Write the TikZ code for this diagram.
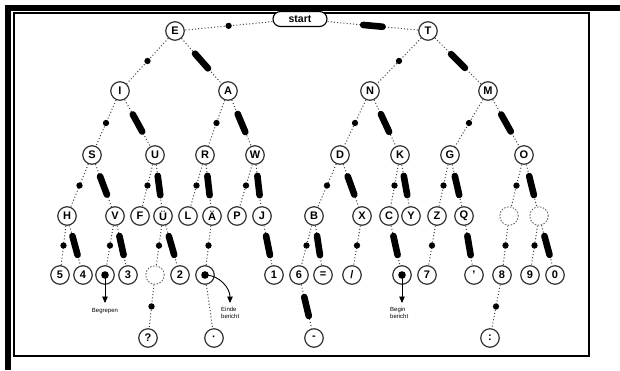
\documentclass[tikz,border=0pt]{standalone}
\usepackage{fontspec}
\setmainfont{Liberation Sans}
\usetikzlibrary{arrows.meta}
\begin{document}
\begin{tikzpicture}[x=1pt,y=-1pt,
  lt/.style={circle, draw=black!80, line width=1.2pt, minimum size=18.5pt, inner sep=0pt, fill=white, font=\fontsize{11}{11}\selectfont\bfseries},
  blank/.style={circle, draw=black!60, dash pattern=on 1.5pt off 1.5pt, line width=0.9pt, minimum size=18.5pt, inner sep=0pt},
  conn/.style={line width=1pt, black!75, dash pattern=on 1pt off 2.2pt},
  dotm/.style={circle, fill=black, inner sep=0pt, minimum size=6.3pt},
  dashm/.style={sloped, fill=black, rounded corners=3.2pt, minimum width=26pt, minimum height=6.6pt, inner sep=0pt},
  lbl/.style={font=\fontsize{6}{6.5}\selectfont, align=left, inner sep=0pt},
  arr/.style={line width=0.9pt, -{Triangle[length=6.5pt,width=5.5pt]}}
]
\useasboundingbox (0,0) rectangle (620,370);
\fill[white] (0,0) rectangle (620,370);
% frame
\fill[black] (5,5) rectangle (620,11);
\fill[black] (5,5) rectangle (11,370);
\draw[line width=1.2pt] (14,13) rectangle (589,356);

% nodes
\node[draw, line width=1.1pt, rounded corners=7.5pt, minimum width=54pt, minimum height=15pt, inner sep=0pt, fill=white, font=\fontsize{10.5}{10.5}\selectfont\bfseries] (st) at (300,19) {start};
\node[lt] (E) at (175,31) {E};
\node[lt] (T) at (428,31) {T};
\node[lt] (I) at (120,91) {I};
\node[lt] (A) at (228,91) {A};
\node[lt] (N) at (370,91) {N};
\node[lt] (M) at (488,91) {M};
\node[lt] (S) at (92,155) {S};
\node[lt] (U) at (155,155) {U};
\node[lt] (R) at (205,155) {R};
\node[lt] (W) at (255,155) {W};
\node[lt] (D) at (340,155) {D};
\node[lt] (K) at (400,155) {K};
\node[lt] (G) at (450,155) {G};
\node[lt] (O) at (524,155) {O};
\node[lt] (H) at (67,216) {H};
\node[lt] (V) at (115,216) {V};
\node[lt] (F) at (140,216) {F};
\node[lt] (UU) at (163,216) {Ü};
\node[lt] (L) at (188,216) {L};
\node[lt] (AA) at (212,216) {Ä};
\node[lt] (P) at (237,216) {P};
\node[lt] (J) at (262,216) {J};
\node[lt] (B) at (314,216) {B};
\node[lt] (X) at (362,216) {X};
\node[lt] (C) at (389,216) {C};
\node[lt] (Y) at (411,216) {Y};
\node[lt] (Z) at (437,216) {Z};
\node[lt] (Q) at (464,216) {Q};
\node[blank] (b1) at (509,216) {};
\node[blank] (b2) at (539,216) {};
\node[lt] (n5) at (60,275) {5};
\node[lt] (n4) at (83,275) {4};
\node[lt] (bg) at (105,275) {};
\node[lt] (n3) at (128,275) {3};
\node[blank] (b3) at (155,275) {};
\node[lt] (n2) at (180,275) {2};
\node[lt] (eb) at (205,275) {};
\node[lt] (n1) at (274,275) {1};
\node[lt] (n6) at (299,275) {6};
\node[lt] (eq) at (323,275) {=};
\node[lt] (sl) at (352,275) {/};
\node[lt] (bb) at (402,275) {};
\node[lt] (n7) at (427,275) {7};
\node[lt] (ap) at (474,275) {'};
\node[lt] (n8) at (502,275) {8};
\node[lt] (n9) at (530,275) {9};
\node[lt] (n0) at (555,275) {0};
\node[lt] (qm) at (148,338) {?};
\node[lt] (pt) at (214,338) {·};
\node[lt] (mi) at (314,338) {-};
\node[lt] (co) at (490,338) {:};
\fill (bg) circle (3.8pt);
\fill (eb) circle (3.8pt);
\fill (bb) circle (3.8pt);

% connectors
\draw[conn] (st) -- node[dotm]{} (E);
\draw[conn] (st) -- node[dashm]{} (T);
\draw[conn] (E) -- node[dotm]{} (I);
\draw[conn] (E) -- node[dashm]{} (A);
\draw[conn] (T) -- node[dotm]{} (N);
\draw[conn] (T) -- node[dashm]{} (M);
\draw[conn] (I) -- node[dotm]{} (S);
\draw[conn] (I) -- node[dashm]{} (U);
\draw[conn] (A) -- node[dotm]{} (R);
\draw[conn] (A) -- node[dashm]{} (W);
\draw[conn] (N) -- node[dotm]{} (D);
\draw[conn] (N) -- node[dashm]{} (K);
\draw[conn] (M) -- node[dotm]{} (G);
\draw[conn] (M) -- node[dashm]{} (O);
\draw[conn] (S) -- node[dotm]{} (H);
\draw[conn] (S) -- node[dashm]{} (V);
\draw[conn] (U) -- node[dotm]{} (F);
\draw[conn] (U) -- node[dashm]{} (UU);
\draw[conn] (R) -- node[dotm]{} (L);
\draw[conn] (R) -- node[dashm]{} (AA);
\draw[conn] (W) -- node[dotm]{} (P);
\draw[conn] (W) -- node[dashm]{} (J);
\draw[conn] (D) -- node[dotm]{} (B);
\draw[conn] (D) -- node[dashm]{} (X);
\draw[conn] (K) -- node[dotm]{} (C);
\draw[conn] (K) -- node[dashm]{} (Y);
\draw[conn] (G) -- node[dotm]{} (Z);
\draw[conn] (G) -- node[dashm]{} (Q);
\draw[conn] (O) -- node[dotm]{} (b1);
\draw[conn] (O) -- node[dashm]{} (b2);
\draw[conn] (H) -- node[dotm]{} (n5);
\draw[conn] (H) -- node[dashm]{} (n4);
\draw[conn] (V) -- node[dotm]{} (bg);
\draw[conn] (V) -- node[dashm]{} (n3);
\draw[conn] (UU) -- node[dotm]{} (b3);
\draw[conn] (UU) -- node[dashm]{} (n2);
\draw[conn] (AA) -- node[dotm]{} (eb);
\draw[conn] (J) -- node[dashm]{} (n1);
\draw[conn] (B) -- node[dotm]{} (n6);
\draw[conn] (B) -- node[dashm]{} (eq);
\draw[conn] (X) -- node[dotm]{} (sl);
\draw[conn] (C) -- node[dashm]{} (bb);
\draw[conn] (Z) -- node[dotm]{} (n7);
\draw[conn] (Q) -- node[dashm]{} (ap);
\draw[conn] (b1) -- node[dotm]{} (n8);
\draw[conn] (b2) -- node[dotm]{} (n9);
\draw[conn] (b2) -- node[dashm]{} (n0);
\draw[conn] (b3) -- node[dotm]{} (qm);
\draw[conn] (eb) -- (pt);
\draw[conn] (n6) -- node[dashm]{} (mi);
\draw[conn] (n8) -- node[dotm]{} (co);

% arrows and labels
\coordinate (bgE) at (105,303);
\coordinate (ebE) at (230,303);
\coordinate (bbE) at (402,303);
\draw[arr] (bg.center) -- (bgE);
\draw[arr] (eb.center) to[out=0,in=90] (ebE);
\draw[arr] (bb.center) -- (bbE);
\node[lbl, anchor=north] (tbg) at (105,308) {Begrepen};
\node[lbl, anchor=north west] (teb) at (221,307) {Einde\\bericht};
\node[lbl, anchor=north west] (tbb) at (390,307) {Begin\\bericht};
\end{tikzpicture}
\end{document}
